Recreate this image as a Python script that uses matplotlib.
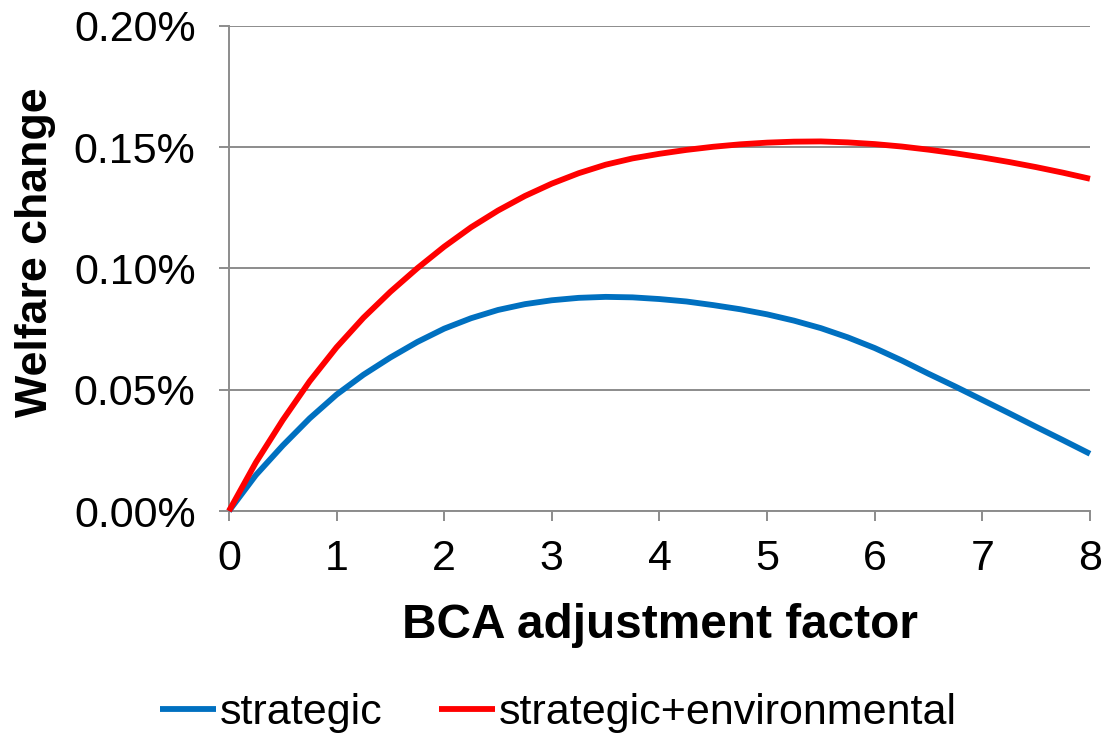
import numpy as np
import matplotlib
matplotlib.use('Agg')
import matplotlib.pyplot as plt
from matplotlib.ticker import FuncFormatter

plt.rcParams['font.family'] = ['Liberation Sans', 'DejaVu Sans']

# data (welfare change in %), x step 0.25
bca_factor = [0, 0.25, 0.5, 0.75, 1, 1.25, 1.5, 1.75, 2, 2.25, 2.5, 2.75, 3,
              3.25, 3.5, 3.75, 4, 4.25, 4.5, 4.75, 5, 5.25, 5.5, 5.75, 6,
              6.25, 6.5, 6.75, 7, 7.25, 7.5, 7.75, 8]
strategic = [0, 0.0148, 0.0270, 0.0382, 0.0480, 0.0562, 0.0633, 0.0697, 0.0752,
             0.0795, 0.0829, 0.0853, 0.0869, 0.0879, 0.0883, 0.0881, 0.0874,
             0.0864, 0.0849, 0.0832, 0.0811, 0.0785, 0.0754, 0.0716, 0.0672,
             0.0621, 0.0566, 0.0513, 0.0458, 0.0403, 0.0347, 0.0292, 0.0236]
strategic_env = [0, 0.0200, 0.0375, 0.0535, 0.0675, 0.0797, 0.0904, 0.1001,
                 0.1090, 0.1170, 0.1239, 0.1299, 0.1350, 0.1393, 0.1428,
                 0.1454, 0.1473, 0.1489, 0.1502, 0.1512, 0.1519, 0.1523,
                 0.1524, 0.1520, 0.1513, 0.1503, 0.1490, 0.1475, 0.1458,
                 0.1439, 0.1418, 0.1395, 0.1370]
series_names = ['strategic', 'strategic+environmental']
series_colors = ['#0070C0', '#FF0000']

yticks = [0, 0.05, 0.10, 0.15, 0.20]
xticks = [0, 1, 2, 3, 4, 5, 6, 7, 8]

fig = plt.figure(figsize=(11.06, 7.34), dpi=100)
ax = fig.add_axes([0.207, 0.3038, 0.7785, 0.6608])

for yy, name, col in zip([strategic, strategic_env], series_names, series_colors):
    ax.plot(bca_factor, yy, color=col, lw=4.2, label=name,
            solid_joinstyle='round', solid_capstyle='butt', clip_on=False, zorder=3)

ax.set_xlim(0, 8)
ax.set_ylim(0, 0.20)
ax.set_xticks(xticks)
ax.set_yticks(yticks)
ax.yaxis.set_major_formatter(FuncFormatter(lambda v, p: '%.2f%%' % v))

ax.grid(axis='y', color='#8c8c8c', lw=1.4)
ax.set_axisbelow(True)
for s in ['top', 'right']:
    ax.spines[s].set_visible(False)
for s in ['left', 'bottom']:
    ax.spines[s].set_color('#8c8c8c')
    ax.spines[s].set_linewidth(1.4)

ax.tick_params(axis='both', colors='#8c8c8c', width=1.4, length=7,
               labelcolor='black', labelsize=31)
ax.tick_params(axis='y', pad=17)
ax.tick_params(axis='x', pad=13)

fig.text(0.5963, 0.1485, 'BCA adjustment factor', ha='center', va='center',
         fontsize=34.4, fontweight='bold')
fig.text(0.032, 1 - 252 / 734., 'Welfare change', ha='center', va='center',
         rotation=90, fontsize=32.2, fontweight='bold')

fig.legend(loc='center', bbox_to_anchor=(0.505, 0.029), ncol=2, frameon=False,
           fontsize=31, handlelength=1.3, handletextpad=0.1, columnspacing=1.3)

fig.savefig('out.png', dpi=100)
